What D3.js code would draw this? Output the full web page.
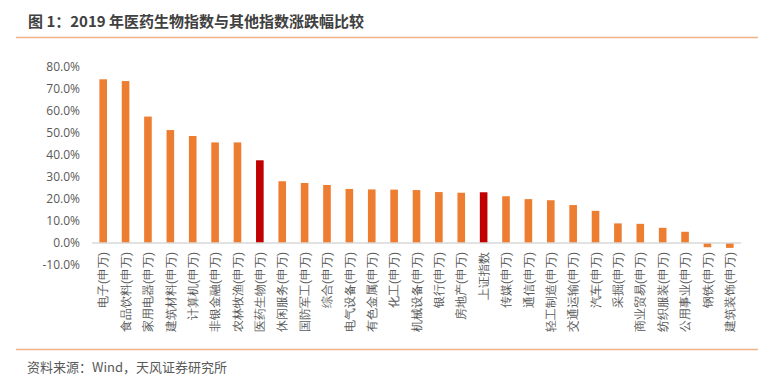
<!DOCTYPE html>
<html><head><meta charset="utf-8">
<script src="https://cdn.jsdelivr.net/npm/d3@7"></script>
<style>
html,body{margin:0;padding:0;background:#fff;}
svg{display:block;font-family:"Noto Sans CJK SC","Noto Sans",sans-serif;}
</style></head>
<body>
<script>
const categories = ["电子(申万)","食品饮料(申万)","家用电器(申万)","建筑材料(申万)","计算机(申万)","非银金融(申万)","农林牧渔(申万)","医药生物(申万)","休闲服务(申万)","国防军工(申万)","综合(申万)","电气设备(申万)","有色金属(申万)","化工(申万)","机械设备(申万)","银行(申万)","房地产(申万)","上证指数","传媒(申万)","通信(申万)","轻工制造(申万)","交通运输(申万)","汽车(申万)","采掘(申万)","商业贸易(申万)","纺织服装(申万)","公用事业(申万)","钢铁(申万)","建筑装饰(申万)"];
const values = [74.2,73.4,57.3,51.2,48.5,45.6,45.6,37.5,28.0,27.2,26.3,24.5,24.3,24.2,24.0,23.1,22.8,23.0,21.2,19.9,19.4,17.2,14.6,8.9,8.7,6.9,5.1,-1.9,-2.2];
const highlighted = ["医药生物(申万)","上证指数"];
const yTicks = [-10,0,10,20,30,40,50,60,70,80];
const title = "图 1：2019 年医药生物指数与其他指数涨跌幅比较";
const source = "资料来源：Wind，天风证券研究所";

const W = 770, H = 381;
const svg = d3.select("body").append("svg").attr("width", W).attr("height", H);

// title + rules
svg.append("text").attr("x", 28).attr("y", 27).attr("font-size", 15).attr("font-weight", "bold")
  .attr("fill", "#404040").text(title);
svg.append("line").attr("x1", 16).attr("x2", 758).attr("y1", 37.5).attr("y2", 37.5)
  .attr("stroke", "#F4B183").attr("stroke-width", 1.5);
svg.append("line").attr("x1", 16).attr("x2", 758).attr("y1", 349.5).attr("y2", 349.5)
  .attr("stroke", "#F4B183").attr("stroke-width", 1.5);
svg.append("text").attr("x", 27).attr("y", 372).attr("font-size", 13)
  .attr("fill", "#595959").text(source);

const x = d3.scaleBand().domain(categories).range([92, 741]).paddingInner(0.66).paddingOuter(0.33);
const y = d3.scaleLinear().domain([-10, 80]).range([265.1, 66.5]);

// y axis labels
const yAxis = d3.axisLeft(y).tickValues(yTicks).tickSize(0).tickPadding(0)
  .tickFormat(d => d.toFixed(1) + "%");
const ga = svg.append("g").attr("transform", "translate(80,0)").call(yAxis);
ga.select(".domain").remove();
ga.selectAll("text").attr("font-size", 12).attr("fill", "#595959")
  .attr("font-family", "'Open Sans','Noto Sans',sans-serif");

// bars
svg.append("g").selectAll("rect").data(categories).join("rect")
  .attr("x", d => x(d))
  .attr("width", x.bandwidth())
  .attr("y", (d, i) => y(Math.max(0, values[i])))
  .attr("height", (d, i) => Math.abs(y(values[i]) - y(0)))
  .attr("fill", d => highlighted.includes(d) ? "#C00000" : "#ED7D31");

// zero line
svg.append("line").attr("x1", 92).attr("x2", 741).attr("y1", y(0)).attr("y2", y(0))
  .attr("stroke", "#D9D9D9").attr("stroke-width", 1.5);

// x labels
const xAxis = d3.axisBottom(x).tickSize(0).tickPadding(0);
const gx = svg.append("g").attr("transform", `translate(0,${y(0)})`).call(xAxis);
gx.select(".domain").remove();
gx.selectAll("text")
  .attr("font-size", 12).attr("fill", "#595959")
  .attr("text-anchor", "end")
  .attr("transform", "rotate(-90)")
  .attr("x", -9).attr("y", 0).attr("dy", "0.35em");
</script>
</body></html>
